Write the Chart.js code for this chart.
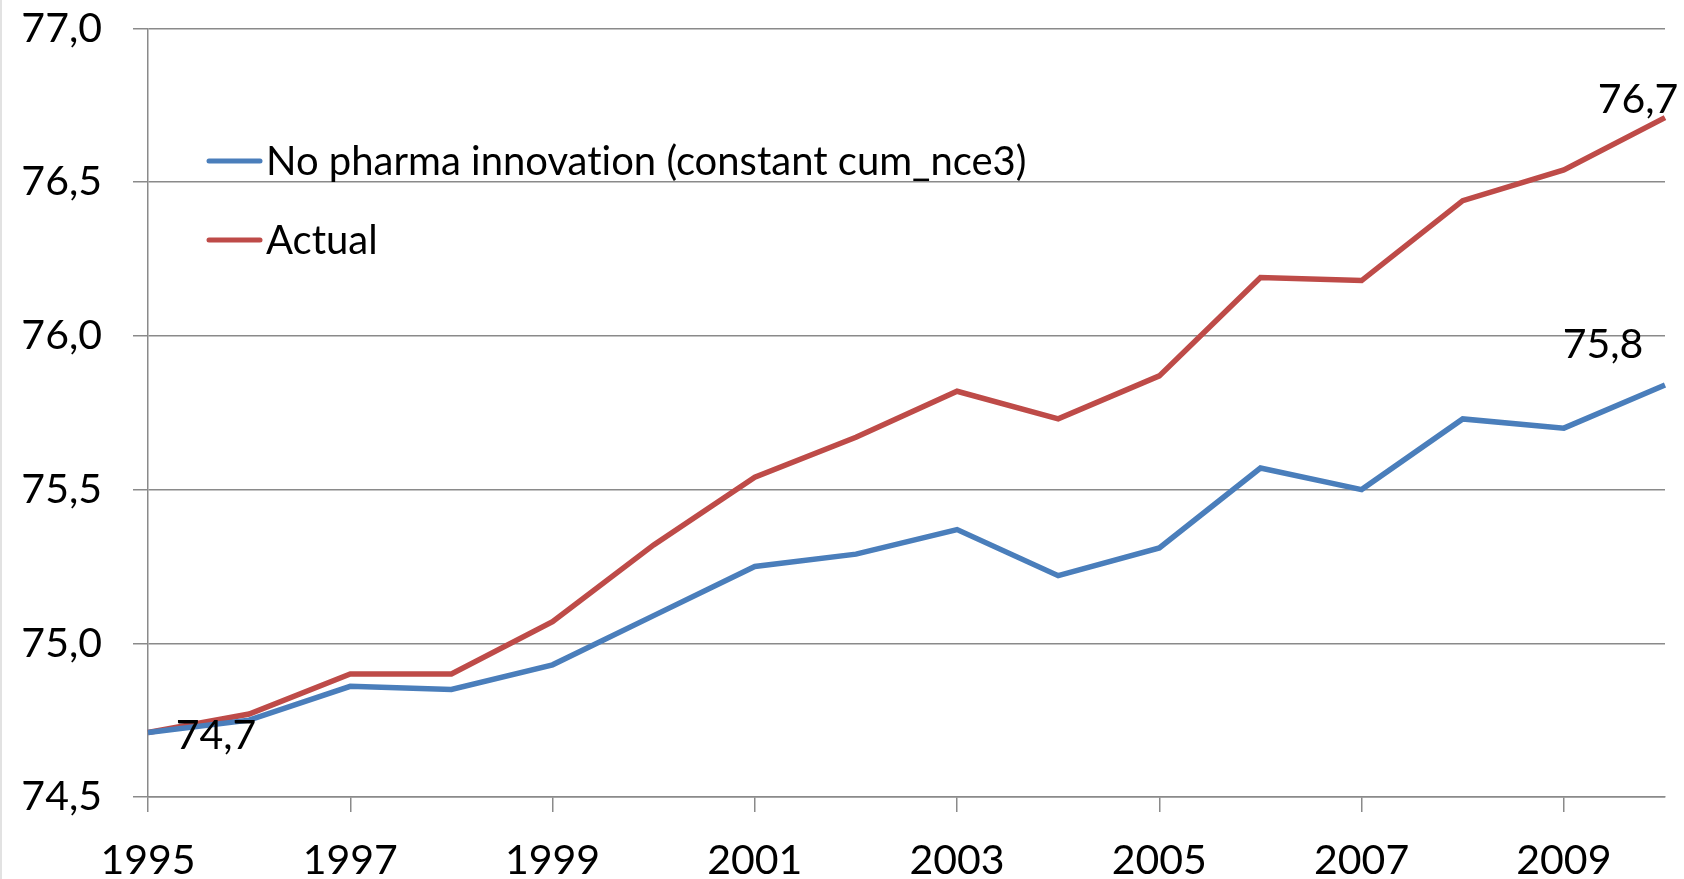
<!DOCTYPE html>
<html>
<head>
<meta charset="utf-8">
<script src="https://cdn.jsdelivr.net/npm/chart.js@4.4.0/dist/chart.umd.min.js"></script>
<style>
  html, body { margin: 0; padding: 0; background: #fff; }
  #wrap { position: relative; width: 1684px; height: 879px; }
  #edge { position: absolute; left: 0; top: 0; width: 2px; height: 879px; background: #e2e2e2; }
</style>
</head>
<body>
<div id="wrap">
  <canvas id="chart"></canvas>
  <div id="edge"></div>
</div>
<script>
// ---------- Data ----------
const years = ["1995", "1996", "1997", "1998", "1999", "2000", "2001", "2002",
               "2003", "2004", "2005", "2006", "2007", "2008", "2009", "2010"];
const noPharma = [74.71, 74.75, 74.86, 74.85, 74.93, 75.09, 75.25, 75.29,
                  75.37, 75.22, 75.31, 75.57, 75.50, 75.73, 75.70, 75.84];
const actual   = [74.71, 74.77, 74.90, 74.90, 75.07, 75.32, 75.54, 75.67,
                  75.82, 75.73, 75.87, 76.19, 76.18, 76.44, 76.54, 76.71];
const seriesNames = ["No pharma innovation (constant cum_nce3)", "Actual"];

const BLUE = "#4a7ebb";
const RED = "#be4b48";
const GRID = "#8a8a8a";
const FONT = "Lato";

const fmt = (v) => v.toFixed(1).replace(".", ",");

// ---------- Plugins ----------
// legend drawn inside the plot, like the original
const insideLegend = {
  id: "insideLegend",
  afterDraw(chart) {
    const ctx = chart.ctx;
    const rows = [161, 240];
    ctx.save();
    chart.data.datasets.forEach((ds, i) => {
      const y = rows[i];
      ctx.strokeStyle = ds.borderColor;
      ctx.lineWidth = 5;
      ctx.lineCap = "round";
      ctx.beginPath();
      ctx.moveTo(209, y);
      ctx.lineTo(260, y);
      ctx.stroke();
      ctx.fillStyle = "#000";
      ctx.font = "40px " + FONT;
      ctx.textRendering = "optimizeSpeed"; // no "ti" ligature
      ctx.textBaseline = "middle";
      ctx.textAlign = "left";
      ctx.fillText(ds.label, 266, y + 1);
    });
    ctx.restore();
  }
};

// value labels on a few points
const pointLabels = {
  id: "pointLabels",
  afterDatasetsDraw(chart) {
    const ctx = chart.ctx;
    const spots = [
      { ds: 0, i: 0, dx: 68, dy: 3 },
      { ds: 0, i: 15, dx: -62, dy: -40 },
      { ds: 1, i: 15, dx: -27, dy: -18 }
    ];
    ctx.save();
    ctx.fillStyle = "#000";
    ctx.font = "41px " + FONT;
    ctx.textAlign = "center";
    ctx.textBaseline = "middle";
    spots.forEach((s) => {
      const pt = chart.getDatasetMeta(s.ds).data[s.i];
      const v = chart.data.datasets[s.ds].data[s.i];
      ctx.fillText(fmt(v), pt.x + s.dx, pt.y + s.dy);
    });
    ctx.restore();
  }
};

// ---------- Chart ----------
new Chart(document.getElementById("chart"), {
  type: "line",
  data: {
    labels: years,
    datasets: [
      { label: seriesNames[0], data: noPharma, borderColor: BLUE, backgroundColor: BLUE,
        borderWidth: 5.5, pointRadius: 0, tension: 0, borderJoinStyle: "miter" },
      { label: seriesNames[1], data: actual, borderColor: RED, backgroundColor: RED,
        borderWidth: 5.5, pointRadius: 0, tension: 0, borderJoinStyle: "miter" }
    ]
  },
  options: {
    responsive: true,
    maintainAspectRatio: false,
    animation: false,
    layout: { padding: { left: 0, right: 19, top: 28.5, bottom: 0 } },
    plugins: { legend: { display: false }, tooltip: { enabled: false } },
    scales: {
      x: {
        type: "category",
        offset: false,
        afterFit: (s) => { s.height = 82; s.paddingLeft = 0; s.paddingRight = 0; },
        border: { display: true, color: GRID, width: 1.5 },
        grid: {
          drawOnChartArea: false,
          drawTicks: true,
          tickLength: 15,
          lineWidth: 1.5,
          color: (c) => (c.index % 2 === 0 ? GRID : "rgba(0,0,0,0)")
        },
        ticks: {
          autoSkip: false,
          maxRotation: 0,
          padding: 24,
          color: "#000",
          font: { family: FONT, size: 41 },
          callback: (v, i) => (i % 2 === 0 ? years[i] : "")
        }
      },
      y: {
        min: 74.5,
        max: 77,
        afterFit: (s) => { s.width = 148; s.paddingTop = 0; s.paddingBottom = 0; },
        border: { display: true, color: GRID, width: 1.5 },
        grid: { color: GRID, lineWidth: 1.5, tickLength: 15 },
        ticks: {
          stepSize: 0.5,
          padding: 31,
          color: "#000",
          font: { family: FONT, size: 41 },
          callback: (v) => fmt(v)
        }
      }
    }
  },
  plugins: [insideLegend, pointLabels]
});
</script>
</body>
</html>
